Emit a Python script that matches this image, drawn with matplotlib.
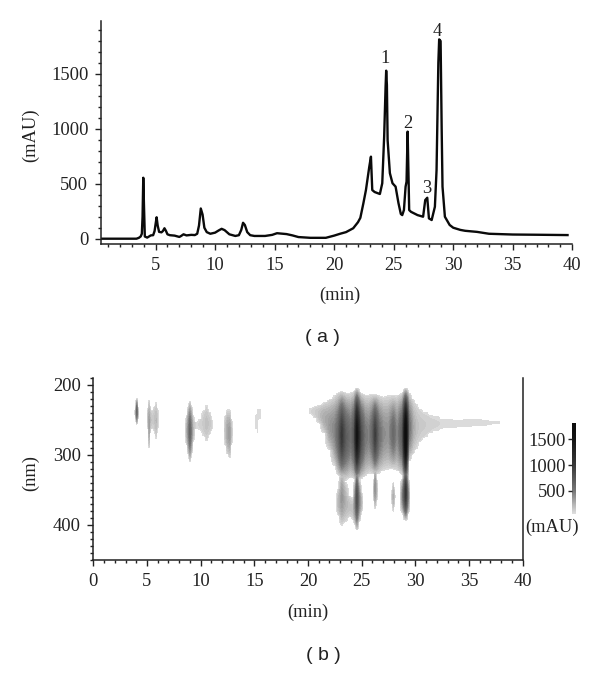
import numpy as np
import matplotlib
matplotlib.use("Agg")
import matplotlib.pyplot as plt
from matplotlib.colors import LinearSegmentedColormap, Normalize
from matplotlib.ticker import MultipleLocator

W, H = 600, 673
plt.rcParams['font.family'] = ['Liberation Serif', 'DejaVu Serif']

# Panel (a): chromatogram
curve_time = [0.42, 2.0, 3.4, 3.6, 3.75, 3.85, 3.91, 3.97, 4.03, 4.1, 4.3, 4.6, 4.8, 4.92, 5.0, 5.09, 5.18, 5.3, 5.5,
              5.62, 5.75, 5.88, 6.0, 6.2, 6.6, 7.0, 7.15, 7.35, 7.6, 8.0, 8.3, 8.5, 8.65, 8.8, 8.95, 9.1, 9.3, 9.6, 10.0, 10.3, 10.55, 10.8,
              11.2, 11.7, 12.0, 12.2, 12.35, 12.5, 12.7, 12.95, 13.3, 14.2, 14.8, 15.2, 16.0, 16.5, 17.0, 18.0, 19.3, 20.0, 20.5,
              21.0, 21.6, 22.0, 22.2, 22.45, 22.67, 22.95, 23.09, 23.2, 23.4, 23.84, 24.04, 24.2, 24.32, 24.37, 24.43, 24.49, 24.68,
              24.9, 25.16, 25.4, 25.6, 25.72, 25.86, 26.0, 26.08, 26.17, 26.24, 26.3, 26.45, 27.0, 27.47, 27.65, 27.82, 27.96, 28.19,
              28.46, 28.6, 28.75, 28.82, 28.94, 29.03, 29.1, 29.3, 29.7, 30.0, 30.6, 31.0, 32.0, 33.0, 35.0, 37.0, 39.6]
curve_mau = [0, 0, 0, 8, 20, 45, 200, 555, 300, 20, 10, 30, 32, 70, 130, 195, 120, 62, 58,
             70, 95, 70, 40, 32, 28, 16, 25, 40, 30, 35, 33, 45, 120, 275, 220, 100, 60, 45, 55, 75, 90, 78,
             40, 25, 32, 80, 145, 125, 60, 32, 25, 25, 35, 50, 42, 30, 15, 8, 8, 28, 45,
             60, 95, 150, 190, 320, 443, 655, 747, 443, 425, 407, 505, 930, 1385, 1530, 1400, 898, 597,
             505, 474, 325, 225, 215, 261, 474, 520, 975, 600, 261, 245, 215, 200, 352, 373, 185, 170,
             291, 625, 1600, 1815, 1800, 1000, 474, 200, 125, 100, 80, 72, 62, 45, 38, 36, 33]
peak_labels = ['1', '2', '3', '4']
peak_label_time = [24.3, 26.15, 27.8, 28.65]
peak_label_mau = [1645, 1050, 460, 1890]

# Panel (b): upper absorbance band per retention time column
up_time = [3.85, 3.95, 4.05, 4.15, 4.25,
           5.0, 5.1, 5.2, 5.3, 5.45, 5.65, 5.85, 6.0, 6.15,
           8.55, 8.7, 8.85, 9.0, 9.15, 9.3, 9.55, 9.9, 10.25, 10.55, 10.85, 11.1, 11.3,
           12.1, 12.3, 12.5, 12.7, 12.85, 13.05,
           14.9, 15.1, 15.3, 15.55, 15.8,
           19.9, 20.2, 20.6, 21.0, 21.5, 22.0, 22.5, 22.8,
           23.15, 23.5, 24.0, 24.3, 24.55, 24.9, 25.3, 25.7, 26.0, 26.25, 26.6, 27.0, 27.5, 27.95, 28.3, 28.8,
           29.1, 29.4, 29.8, 30.1, 30.5, 31.0, 31.5, 32.0, 33.0, 34.0, 35.0, 36.0, 37.0, 37.8, 38.1]
up_top = [0, 232, 220, 232, 0,
          0, 234, 222, 232, 238, 232, 226, 236, 0,
          0, 245, 232, 224, 232, 245, 254, 250, 238, 230, 240, 252, 0,
          0, 245, 236, 236, 250, 0,
          0, 244, 236, 236, 0,
          236, 234, 232, 230, 226, 222, 216, 212,
          210, 212, 212, 210, 205, 212, 215, 215, 214, 214, 216, 218, 216, 216, 216, 212,
          205, 212, 222, 228, 236, 240, 244, 246, 250, 251, 250, 250, 252, 253, 254]
up_bot = [0, 248, 256, 248, 0,
          0, 262, 290, 268, 262, 265, 276, 262, 0,
          0, 285, 298, 309, 298, 280, 262, 264, 272, 280, 270, 262, 0,
          0, 285, 298, 304, 285, 0,
          0, 262, 268, 248, 0,
          238, 241, 246, 254, 268, 292, 315, 328,
          334, 336, 332, 334, 338, 334, 330, 326, 326, 328, 326, 322, 320, 320, 322, 328,
          340, 308, 298, 291, 280, 274, 268, 265, 261, 260, 259, 258, 257, 255, 255]
up_peak = [0, 200, 620, 200, 0,
           0, 150, 320, 180, 140, 140, 200, 100, 0,
           0, 200, 400, 620, 400, 180, 70, 90, 130, 180, 140, 60, 0,
           0, 150, 300, 340, 150, 0,
           0, 50, 56, 52, 0,
           0, 70, 110, 170, 260, 340, 430, 600,
           1000, 700, 520, 760, 1550, 850, 500, 440, 620, 950, 560, 400, 360, 600, 380, 720,
           1850, 540, 260, 180, 140, 120, 100, 90, 70, 60, 62, 56, 54, 50, 0]

# Panel (b): lower absorbance band per retention time column
lo_time = [22.6, 22.8, 23.15, 23.5, 23.9, 24.2, 24.4, 24.55, 24.75, 25.0, 25.2, 26.05, 26.15, 26.25, 26.4, 26.5,
           27.75, 27.85, 27.95, 28.05, 28.15, 28.55, 28.8, 29.1, 29.35, 29.5]
lo_top = [0, 350, 322, 340, 360, 362, 335, 318, 335, 355, 0, 0, 335, 318, 335, 0,
          0, 350, 340, 350, 0, 0, 335, 314, 335, 0]
lo_bot = [0, 385, 400, 395, 388, 392, 400, 407, 395, 380, 0, 0, 365, 376, 365, 0,
          0, 370, 380, 370, 0, 0, 382, 393, 382, 0]
lo_peak = [0, 180, 360, 230, 170, 180, 450, 820, 450, 150, 0, 0, 180, 380, 180, 0,
           0, 130, 240, 130, 0, 0, 400, 1050, 350, 0]

grey_pos = [47, 500, 1000, 1500, 1823]
grey_val = [0.87, 0.46, 0.22, 0.08, 0.05]
bar_ticks = [500, 1000, 1500]

norm = Normalize(grey_pos[0], grey_pos[-1])
cmap = LinearSegmentedColormap.from_list('g', [(norm(p), (v, v, v)) for p, v in zip(grey_pos, grey_val)])
INK = '#222222'
FS = 13.3


def axes_px(left, top, right, bottom):
    return fig.add_axes([left / W, 1 - bottom / H, (right - left) / W, (bottom - top) / H])


def label_px(x, y, s, **kw):
    kw.setdefault('fontsize', FS)
    kw.setdefault('color', INK)
    fig.text(x / W, 1 - y / H, s, ha='center', va='center', **kw)


def style(ax, sides):
    for k, s in ax.spines.items():
        s.set_visible(k in sides)
        s.set_linewidth(1.1)
        s.set_color(INK)
    ax.tick_params(which='major', length=4.6, width=1.0, color=INK, labelcolor=INK, labelsize=FS, pad=4.5)
    ax.tick_params(which='minor', length=2.2, width=1.0, color=INK)


def band_grid(times, tops, bots, peaks, wl, t_all):
    z = np.full((wl.size, len(times)), -20.0)
    for i, (a, b, p) in enumerate(zip(tops, bots, peaks)):
        if p <= 0:
            continue
        floor = min(60.0, p)
        u = (wl - (a + b) / 2) / ((b - a) / 2)
        inside = np.abs(u) <= 1
        z[inside, i] = floor + (p - floor) * (1 - np.abs(u[inside]) ** 1.8)
    return np.array([np.interp(t_all, times, row, left=-20, right=-20) for row in z])


fig = plt.figure(figsize=(W / 100, H / 100), dpi=100)

# (a)
ax = axes_px(101, 20.7, 572.3, 244.3)
style(ax, ('left', 'bottom'))
ax.plot(curve_time, curve_mau, color='#0a0a0a', lw=1.7, solid_joinstyle='round')
ax.set_xlim(0.42, 40)
ax.set_ylim(-51, 1985)
ax.set_xticks([5, 10, 15, 20, 25, 30, 35, 40])
ax.xaxis.set_minor_locator(MultipleLocator(1))
ax.set_yticks([0, 500, 1000, 1500])
ax.yaxis.set_minor_locator(MultipleLocator(100))
for s, t, m in zip(peak_labels, peak_label_time, peak_label_mau):
    ax.text(t, m, s, ha='center', va='center', fontsize=FS, color=INK)
label_px(30.5, 135, '(mAU)', rotation=90)
label_px(340, 295, '(min)')
label_px(322.5, 338, '( a )', family='Liberation Sans', fontsize=14)

# (b)
bx = axes_px(93.3, 377.7, 522.7, 560)
style(bx, ('left', 'bottom', 'right'))
levels = np.linspace(grey_pos[0], grey_pos[-1] + 60, 50)
wl_all = np.arange(200, 412, 1.0)
t_all = np.union1d(up_time, lo_time)
z_all = np.maximum(band_grid(up_time, up_top, up_bot, up_peak, wl_all, t_all),
                   band_grid(lo_time, lo_top, lo_bot, lo_peak, wl_all, t_all))
bx.contourf(t_all, wl_all, z_all, levels=levels, cmap=cmap, norm=norm, extend='max')
bx.set_xlim(0, 40)
bx.set_ylim(450, 190)
bx.set_xticks(np.arange(0, 41, 5))
bx.xaxis.set_minor_locator(MultipleLocator(1))
bx.set_yticks([200, 300, 400])
bx.yaxis.set_minor_locator(MultipleLocator(10))
label_px(30.5, 473, '(nm)', rotation=90)
label_px(308, 612.7, '(min)')
label_px(323, 656, '( b )', family='Liberation Sans', fontsize=14)

# colour bar
cx = axes_px(571.7, 422.7, 575.7, 514)
cx.imshow(np.linspace(grey_pos[-1], grey_pos[0], 120)[:, None], aspect='auto', cmap=cmap, norm=norm,
          extent=[0, 1, grey_pos[0], grey_pos[-1]])
cx.set_xticks([])
cx.set_yticks(bar_ticks)
cx.tick_params(axis='y', length=3, width=1.0, color=INK, labelcolor=INK, labelsize=FS, pad=1.5)
for s in cx.spines.values():
    s.set_visible(False)
label_px(551.7, 527.7, '(mAU)')

fig.savefig('out.png', dpi=100, facecolor='white')
